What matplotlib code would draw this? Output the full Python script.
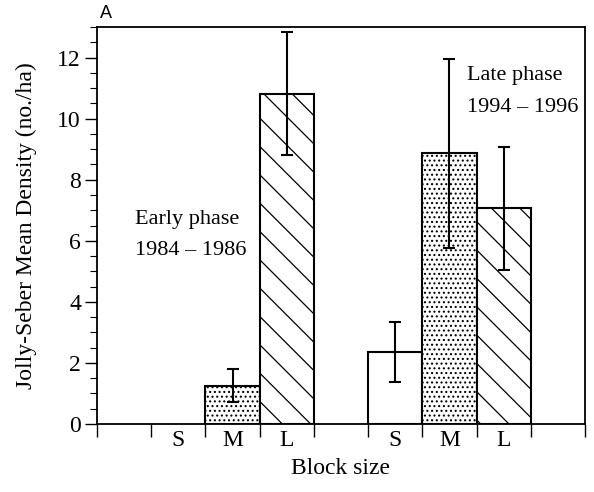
import matplotlib

matplotlib.use("Agg")
import matplotlib.pyplot as plt
import numpy as np
from matplotlib.ticker import MultipleLocator

# block sizes and slot positions (x units = one bar slot)
sizes = ["S", "M", "L"]
early_pos = [1.5, 2.5, 3.5]
late_pos = [5.5, 6.5, 7.5]

early_mean = [0.0, 1.25, 10.82]
early_lo = [0.0, 0.73, 8.8]
early_hi = [0.0, 1.8, 12.85]

late_mean = [2.36, 8.86, 7.08]
late_lo = [1.38, 5.75, 5.06]
late_hi = [3.33, 11.97, 9.07]

hatches = ["", "...", "\\"]

# lower dpi gives a denser hatch; point sizes are scaled back up by K
DPI = 85
K = 100 / DPI
FS = 17 * K
FS_NOTE = 16 * K

plt.rcParams["font.family"] = ["Liberation Serif", "DejaVu Serif"]
plt.rcParams["hatch.linewidth"] = 0.9 * K

fig = plt.figure(figsize=(594 / DPI, 492 / DPI), dpi=DPI)
ax = fig.add_axes([0.1633, 0.1382, 0.8215, 0.8068])

for pos, mean, lo, hi, show_err in [
    (early_pos, early_mean, early_lo, early_hi, [False, True, True]),
    (late_pos, late_mean, late_lo, late_hi, [True, True, True]),
]:
    for x, m, l, h, hatch, se in zip(pos, mean, lo, hi, hatches, show_err):
        if m > 0:
            ax.bar(x, m, width=1.0, color="white", edgecolor="black",
                   linewidth=1.5 * K, hatch=hatch, zorder=2)
        if se:
            ax.errorbar(x, m, yerr=[[m - l], [h - m]], fmt="none",
                        ecolor="black", elinewidth=1.5 * K, capsize=4.5 * K,
                        capthick=1.5 * K, zorder=3)

ax.set_xlim(0, 9)
ax.set_ylim(0, 13)

ax.set_xticks(np.arange(0, 10))
ax.set_xticklabels([])
ax.set_xticks(early_pos + late_pos, minor=True)
ax.set_xticklabels(sizes + sizes, minor=True, fontsize=FS)
ax.tick_params(axis="x", which="major", direction="out", length=9 * K, width=K)
ax.tick_params(axis="x", which="minor", length=0, pad=4 * K)

ax.yaxis.set_major_locator(MultipleLocator(2))
ax.yaxis.set_minor_locator(MultipleLocator(0.5))
ax.tick_params(axis="y", which="major", direction="out", length=8.5 * K, width=K,
               labelsize=FS, pad=3 * K)
ax.tick_params(axis="y", which="minor", direction="out", length=5 * K, width=0.8 * K)

for sp in ax.spines.values():
    sp.set_linewidth(1.3 * K)

ax.set_xlabel("Block size", fontsize=FS, labelpad=5 * K)
ax.set_ylabel("Jolly-Seber Mean Density (no./ha)", fontsize=FS, labelpad=15 * K)

ax.text(0.7, 6.7, "Early phase", fontsize=FS_NOTE, va="center", ha="left")
ax.text(0.7, 5.68, "1984 \u2013 1986", fontsize=FS_NOTE, va="center", ha="left")
ax.text(6.82, 11.4, "Late phase", fontsize=FS_NOTE, va="center", ha="left")
ax.text(6.82, 10.36, "1994 \u2013 1996", fontsize=FS_NOTE, va="center", ha="left")

fig.text(0.168, 0.973, "A", fontsize=13 * K, family=["Liberation Sans", "DejaVu Sans"],
         va="center", ha="left")

fig.savefig("out.png", dpi=DPI)
